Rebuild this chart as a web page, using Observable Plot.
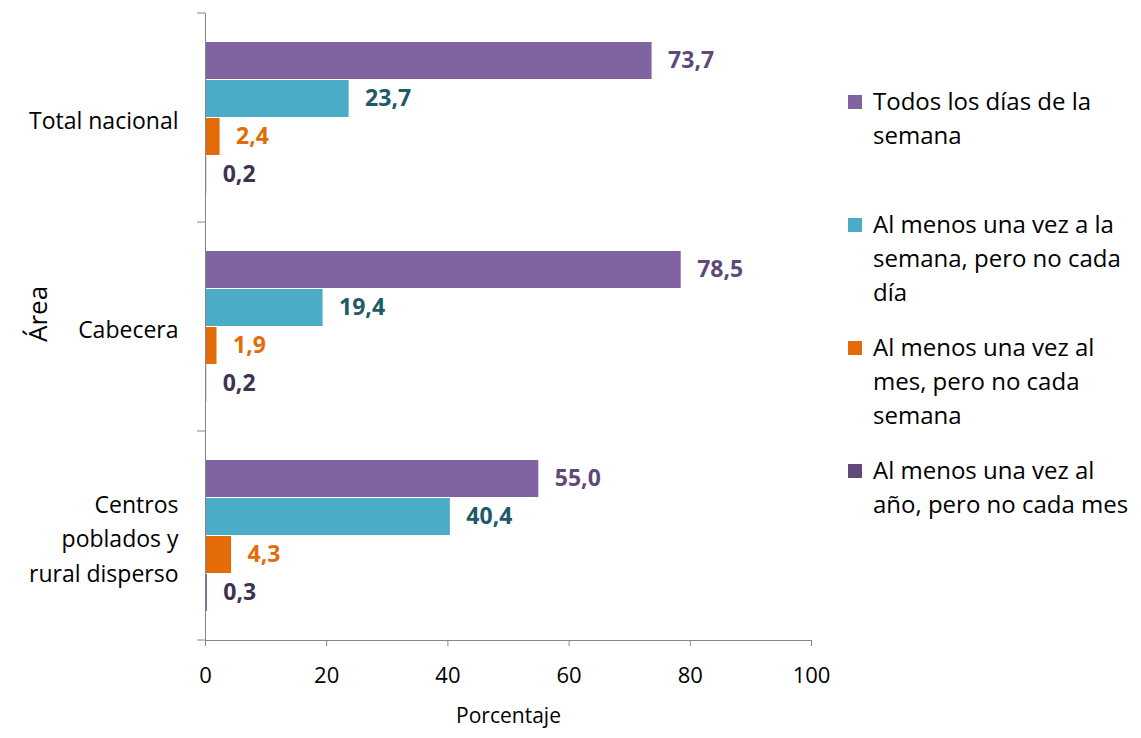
<!DOCTYPE html>
<html>
<head>
<meta charset="utf-8">
<script src="https://cdn.jsdelivr.net/npm/d3@7"></script>
<script src="https://cdn.jsdelivr.net/npm/@observablehq/plot@0.6"></script>
<style>
  html, body { margin: 0; padding: 0; background: #fff; }
  #wrap { position: relative; width: 1141px; height: 738px; font-family: "Open Sans", Lato, sans-serif; }
  #legend { position: absolute; left: 848px; top: 84px; width: 293px; }
  .item { position: absolute; left: 0; display: flex; align-items: flex-start; font-size: 24px; line-height: 34px; color: #000; white-space: nowrap; }
  .sw { width: 14px; height: 14px; margin-top: 11px; margin-right: 11px; flex: none; }
</style>
</head>
<body>
<div id="wrap"></div>
<script>
// ---- data ----
const areas = ["Total nacional", "Cabecera", "Centros poblados y rural disperso"];
const areaLabels = ["Total nacional", "Cabecera", "Centros\npoblados y\nrural disperso"];
const series = [
  "Todos los días de la semana",
  "Al menos una vez a la semana, pero no cada día",
  "Al menos una vez al mes, pero no cada semana",
  "Al menos una vez al año, pero no cada mes"
];
const legendLines = [
  ["Todos los días de la", "semana"],
  ["Al menos una vez a la", "semana, pero no cada", "día"],
  ["Al menos una vez al", "mes, pero no cada", "semana"],
  ["Al menos una vez al", "año, pero no cada mes"]
];
const todosLosDias = [73.7, 78.5, 55.0];
const semanal = [23.7, 19.4, 40.4];
const mensual = [2.4, 1.9, 4.3];
const anual = [0.2, 0.2, 0.3];
const xTicks = [0, 20, 40, 60, 80, 100];

const barColors = ["#8064A2", "#4BACC6", "#E36C09", "#604A7B"];
const labelColors = ["#5F497A", "#215968", "#E36C09", "#3F3151"];

const valueSets = [todosLosDias, semanal, mensual, anual];
const data = [];
areas.forEach((a, i) => {
  series.forEach((s, j) => {
    data.push({area: a, series: s, value: valueSets[j][i], si: j});
  });
});
const fmt = v => d3.format(".1f")(v).replace(".", ",");

const axisColor = "#868686";

const plot = Plot.plot({
  width: 1141,
  height: 738,
  marginLeft: 205,
  marginRight: 330,
  marginTop: 12,
  marginBottom: 97,
  style: {fontFamily: "'Open Sans', Lato, sans-serif", color: "#000", background: "#fff"},
  x: {domain: [0, 100]},
  y: {domain: series, paddingInner: 0.03, paddingOuter: 0.76, axis: null},
  fy: {domain: areas, padding: 0, axis: null},
  color: {domain: series, range: barColors},
  marks: [
    Plot.barX(data, {x: "value", y: "series", fy: "area", fill: "series"}),
    Plot.text(data, {
      x: "value", y: "series", fy: "area",
      text: d => fmt(d.value),
      dx: 16, textAnchor: "start",
      fill: d => labelColors[d.si],
      fontWeight: "bold", fontSize: 23
    }),
    Plot.frame({anchor: "left", stroke: axisColor, strokeOpacity: 1}),
    Plot.frame({anchor: "bottom", facetAnchor: "bottom", stroke: axisColor, strokeOpacity: 1}),
    Plot.axisX({
      ticks: xTicks, tickSize: 6, tickPadding: 21, fontSize: 22,
      stroke: axisColor, color: "#000", label: null
    }),
    Plot.axisFy({
      anchor: "left", tickSize: 0, tickPadding: 27, fontSize: 23,
      tickFormat: d => areaLabels[areas.indexOf(d)],
      lineHeight: 1.5, label: null
    }),
    Plot.text(["Porcentaje"], {
      facet: "super", frameAnchor: "bottom", dy: 82,
      fontSize: 21, fill: "#000"
    }),
    Plot.text(["Área"], {
      facet: "super", frameAnchor: "left", rotate: -90, dx: -167, dy: 15,
      fontSize: 26, fill: "#000"
    })
  ]
});

// boundary ticks on the left axis at the limits of each group, from the fy scale
const fy = plot.scale("fy");
const svg = d3.select(plot.tagName.toLowerCase() === "svg" ? plot : plot.querySelector("svg"));
const bounds = [];
areas.forEach(a => { const s = fy.apply(a); bounds.push(s); bounds.push(s + fy.bandwidth); });
const uniq = Array.from(new Set(bounds.map(b => Math.round(b * 10) / 10)));
svg.append("g")
  .attr("stroke", axisColor)
  .selectAll("line").data(uniq).join("line")
  .attr("x1", 205 - 8).attr("x2", 205)
  .attr("y1", d => d).attr("y2", d => d);

const wrap = document.getElementById("wrap");
wrap.appendChild(plot);

// legend
const legend = document.createElement("div");
legend.id = "legend";
legendLines.forEach((lines, i) => {
  const item = document.createElement("div");
  item.className = "item";
  item.style.top = (i * 123) + "px";
  const sw = document.createElement("div");
  sw.className = "sw";
  sw.style.background = barColors[i];
  const txt = document.createElement("div");
  txt.innerHTML = lines.join("<br>");
  item.appendChild(sw);
  item.appendChild(txt);
  legend.appendChild(item);
});
wrap.appendChild(legend);
</script>
</body>
</html>
